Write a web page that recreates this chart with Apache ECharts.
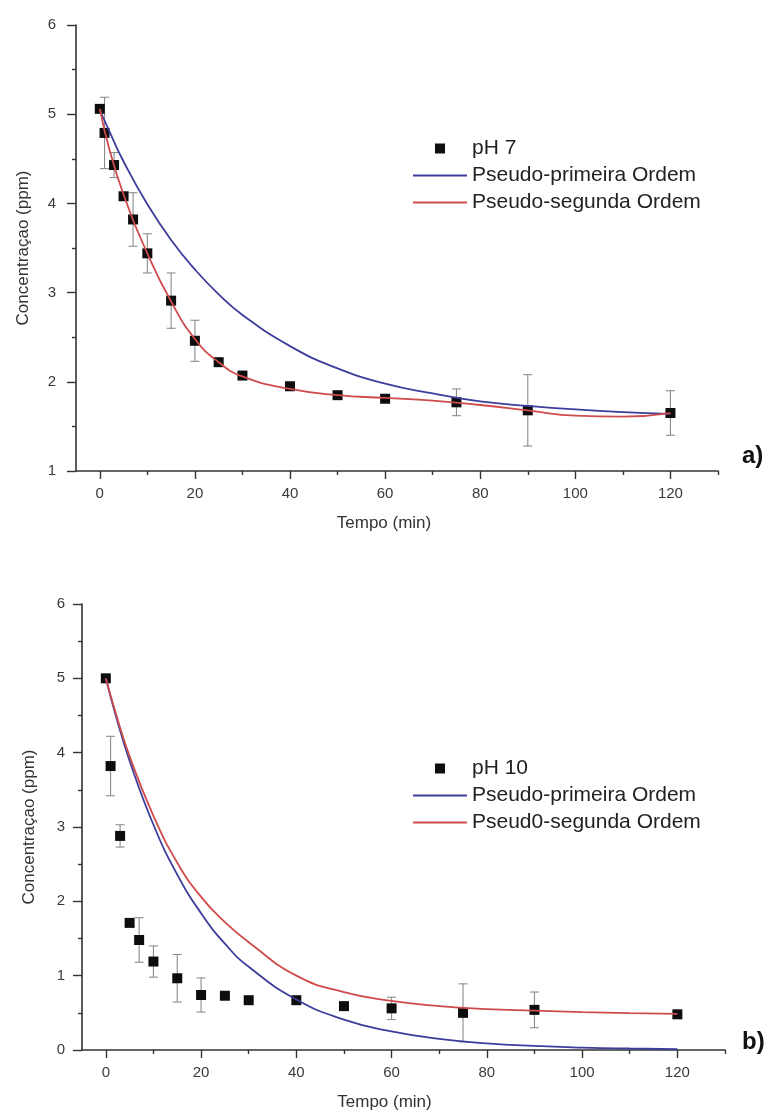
<!DOCTYPE html>
<html>
<head>
<meta charset="utf-8">
<script src="https://cdn.jsdelivr.net/npm/echarts@6/dist/echarts.min.js"></script>
<style>
html, body { margin: 0; padding: 0; background: #ffffff; }
#chart { width: 774px; height: 1120px; }
</style>
</head>
<body>
<div id="chart"></div>
<script>
// ---- a) pH 7 : measured concentration (ppm) vs time (min) ----
const timeA = [0, 1, 3, 5, 7, 10, 15, 20, 25, 30, 40, 50, 60, 75, 90, 120];
const concA = [5.06, 4.79, 4.43, 4.08, 3.82, 3.44, 2.91, 2.46, 2.22, 2.07, 1.95, 1.85, 1.81, 1.77, 1.68, 1.65];
const errA  = [0, 0.40, 0.14, 0, 0.30, 0.22, 0.31, 0.23, 0, 0, 0, 0, 0, 0.15, 0.40, 0.25];

// fitted kinetic curves, pH 7
const fitTimeA    = [0, 2, 5, 10, 15, 20, 25, 30, 40, 50, 60, 70, 80, 90, 100, 110, 120];
const firstOrdA   = [5.05, 4.81, 4.47, 3.99, 3.59, 3.26, 2.98, 2.75, 2.40, 2.15, 1.98, 1.87, 1.78, 1.73, 1.69, 1.66, 1.64];
const secondOrdA  = [5.06, 4.61, 4.10, 3.44, 2.90, 2.48, 2.22, 2.06, 1.92, 1.85, 1.82, 1.79, 1.74, 1.68, 1.62, 1.61, 1.65];

// ---- b) pH 10 ----
const timeB = [0, 1, 3, 5, 7, 10, 15, 20, 25, 30, 40, 50, 60, 75, 90, 120];
const concB = [5.00, 3.82, 2.88, 1.71, 1.48, 1.19, 0.965, 0.74, 0.73, 0.67, 0.67, 0.59, 0.56, 0.50, 0.54, 0.48];
const errB  = [0, 0.40, 0.15, 0, 0.30, 0.21, 0.32, 0.23, 0, 0, 0, 0, 0.15, 0.39, 0.24, 0];

const fitTimeB    = [0, 2, 5, 10, 15, 20, 25, 30, 40, 50, 60, 70, 80, 90, 100, 110, 120];
const firstOrdB   = [5.00, 4.52, 3.89, 3.03, 2.36, 1.84, 1.43, 1.12, 0.68, 0.41, 0.25, 0.15, 0.09, 0.055, 0.033, 0.02, 0.012];
const secondOrdB  = [5.00, 4.55, 3.95, 3.15, 2.52, 2.06, 1.72, 1.45, 1.00, 0.78, 0.66, 0.59, 0.55, 0.53, 0.51, 0.495, 0.485];

// axis ticks
const xMajorTicks = [0, 20, 40, 60, 80, 100, 120];
const xMinorTicks = [10, 30, 50, 70, 90, 110, 130];

const seriesNames = {
  dataA: 'pH 7',
  dataB: 'pH 10',
  first: 'Pseudo-primeira Ordem',
  secondA: 'Pseudo-segunda Ordem',
  secondB: 'Pseud0-segunda Ordem'
};

const FONT = "'Liberation Sans', Arial, Helvetica, sans-serif";
const AXIS_COLOR = '#333333';
const LABEL_COLOR = '#3a3a3a';
const BLUE = '#3d3d9c';
const RED = '#cf4b4b';
const ERR = '#8c8c8c';

// legend glyphs: a filled square for measurements, a thin bar for fitted curves
const SQUARE_ICON = 'path://M0,0 L10,0 L10,10 L0,10 Z';
const LINE_ICON = 'path://M0,0 L100,0 L100,3.6 L0,3.6 Z';

const pairs = (xs, ys) => xs.map((x, i) => [x, ys[i]]);
const errRows = (xs, ys, es) => xs.map((x, i) => [x, ys[i] - es[i], ys[i] + es[i], es[i]]).filter(r => r[3] > 0);

function xAxesFor(gridIndex, nameGap, namePad) {
  const base = {
    type: 'value', gridIndex: gridIndex, min: -5, max: 130, position: 'bottom',
    splitLine: { show: false }
  };
  return [
    Object.assign({}, base, {
      name: 'Tempo (min)', nameLocation: 'middle', nameGap: nameGap,
      nameTextStyle: { fontFamily: FONT, fontSize: 17, color: AXIS_COLOR, padding: [0, namePad, 0, 0] },
      axisLine: { show: true, onZero: false, lineStyle: { color: AXIS_COLOR, width: 1.6 } },
      axisTick: { show: true, inside: false, length: 8, customValues: xMajorTicks, lineStyle: { color: AXIS_COLOR, width: 1.4 } },
      axisLabel: { show: true, customValues: xMajorTicks, margin: 15, fontFamily: FONT, fontSize: 15, color: LABEL_COLOR }
    }),
    Object.assign({}, base, {
      axisLine: { show: false, onZero: false },
      axisTick: { show: true, inside: false, length: 4, customValues: xMinorTicks, lineStyle: { color: AXIS_COLOR, width: 1.4 } },
      axisLabel: { show: false }
    })
  ];
}

function yAxisFor(gridIndex, min, labelMargin, nameGap) {
  return {
    type: 'value', gridIndex: gridIndex, min: min, max: 6, interval: 1,
    name: 'Concentraçao (ppm)', nameLocation: 'middle', nameGap: nameGap,
    nameTextStyle: { fontFamily: FONT, fontSize: 17, color: AXIS_COLOR },
    splitLine: { show: false },
    axisLine: { show: true, onZero: false, lineStyle: { color: AXIS_COLOR, width: 1.6 } },
    axisTick: { show: true, inside: false, length: 9, lineStyle: { color: AXIS_COLOR, width: 1.4 } },
    minorTick: { show: true, splitNumber: 2, length: 4, lineStyle: { color: AXIS_COLOR, width: 1.4 } },
    minorSplitLine: { show: false },
    axisLabel: { margin: labelMargin, fontFamily: FONT, fontSize: 15, color: LABEL_COLOR }
  };
}

function errorBarSeries(xIdx, yIdx, rows) {
  return {
    type: 'custom', xAxisIndex: xIdx, yAxisIndex: yIdx, z: 2, silent: true,
    data: rows,
    encode: { x: 0, y: [1, 2] },
    renderItem: function (params, api) {
      const x = api.value(0);
      const lo = api.coord([x, api.value(1)]);
      const hi = api.coord([x, api.value(2)]);
      const cap = 4.5;
      const style = { stroke: ERR, lineWidth: 1.1 };
      return {
        type: 'group',
        children: [
          { type: 'line', shape: { x1: lo[0], y1: lo[1], x2: hi[0], y2: hi[1] }, style: style },
          { type: 'line', shape: { x1: hi[0] - cap, y1: hi[1], x2: hi[0] + cap, y2: hi[1] }, style: style },
          { type: 'line', shape: { x1: lo[0] - cap, y1: lo[1], x2: lo[0] + cap, y2: lo[1] }, style: style }
        ]
      };
    }
  };
}

function scatterSeries(name, xIdx, yIdx, data) {
  return {
    name: name, type: 'scatter', xAxisIndex: xIdx, yAxisIndex: yIdx, z: 3,
    symbol: 'rect', symbolSize: 10,
    itemStyle: { color: '#0d0d0d', opacity: 1 },
    data: data
  };
}

function fitSeries(name, xIdx, yIdx, data, color) {
  return {
    name: name, type: 'line', xAxisIndex: xIdx, yAxisIndex: yIdx, z: 4,
    symbol: 'none', smooth: 0.5,
    lineStyle: { color: color, width: 1.8 },
    itemStyle: { color: color },
    data: data
  };
}

function legendFor(top, dataName, secondName) {
  return {
    orient: 'vertical', left: 413, top: top, padding: 0, itemGap: 6,
    itemWidth: 54, itemHeight: 10, selectedMode: false, symbolKeepAspect: true,
    textStyle: { fontFamily: FONT, fontSize: 21, color: '#222222' },
    data: [
      { name: dataName, icon: SQUARE_ICON },
      { name: seriesNames.first, icon: LINE_ICON },
      { name: secondName, icon: LINE_ICON }
    ]
  };
}

const chart = echarts.init(document.getElementById('chart'), null, { renderer: 'canvas' });

chart.setOption({
  backgroundColor: '#ffffff',
  animation: false,
  grid: [
    { left: 76, top: 25, width: 642, height: 446 },
    { left: 82, top: 604, width: 643, height: 446 }
  ],
  xAxis: [].concat(xAxesFor(0, 44, 26), xAxesFor(1, 44, 38)),
  yAxis: [yAxisFor(0, 1, 20, 44), yAxisFor(1, 0, 17, 44)],
  legend: [
    legendFor(138, seriesNames.dataA, seriesNames.secondA),
    legendFor(758, seriesNames.dataB, seriesNames.secondB)
  ],
  graphic: [
    { type: 'text', left: 742, top: 444, style: { text: 'a)', font: "bold 24px " + FONT, fill: '#111111' } },
    { type: 'text', left: 742, top: 1030, style: { text: 'b)', font: "bold 24px " + FONT, fill: '#111111' } }
  ],
  series: [
    errorBarSeries(0, 0, errRows(timeA, concA, errA)),
    scatterSeries(seriesNames.dataA, 0, 0, pairs(timeA, concA)),
    fitSeries(seriesNames.first, 0, 0, pairs(fitTimeA, firstOrdA), BLUE),
    fitSeries(seriesNames.secondA, 0, 0, pairs(fitTimeA, secondOrdA), RED),

    errorBarSeries(2, 1, errRows(timeB, concB, errB)),
    scatterSeries(seriesNames.dataB, 2, 1, pairs(timeB, concB)),
    fitSeries(seriesNames.first, 2, 1, pairs(fitTimeB, firstOrdB), BLUE),
    fitSeries(seriesNames.secondB, 2, 1, pairs(fitTimeB, secondOrdB), RED)
  ]
});
</script>
</body>
</html>
